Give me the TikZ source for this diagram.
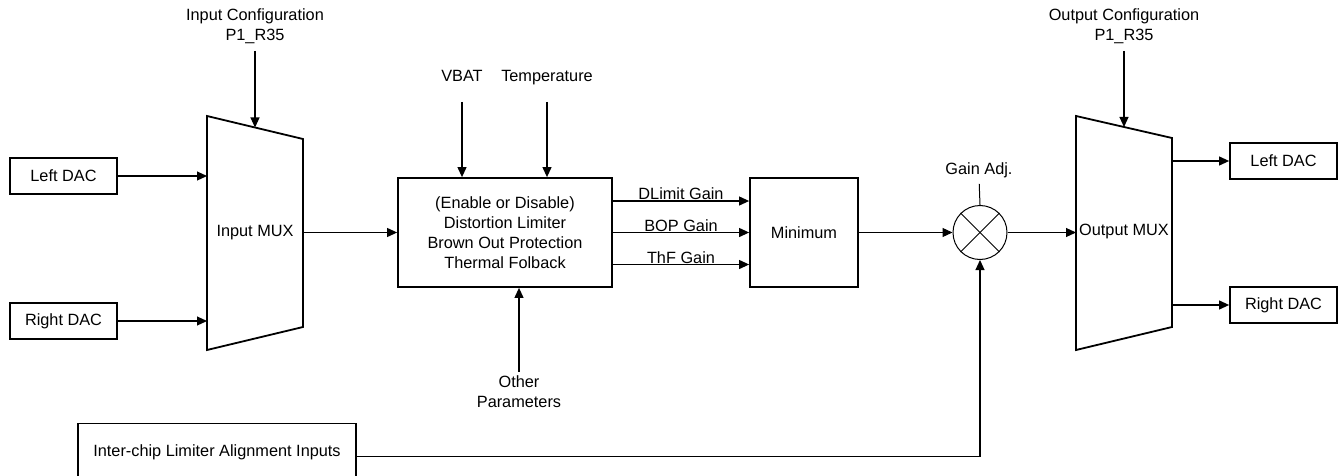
\documentclass[tikz,border=0pt]{standalone}
\usepackage{fontspec}
\setmainfont{Liberation Sans}
\usetikzlibrary{arrows.meta, positioning, calc}

\tikzset{
  blk/.style={draw, line width=1.8pt, minimum width=107pt, minimum height=36pt, inner sep=0pt},
  txt/.style={inner sep=0pt, align=center},
  sig/.style={-{Triangle[length=10pt,width=9pt]}, line width=1.1pt},
  wire/.style={line width=1pt},
  muxline/.style={line width=1.8pt, line join=miter},
  gainlbl/.style={txt, anchor=base, yshift=1.5pt},
}

\begin{document}
\begin{tikzpicture}[x=1pt, y=-1pt, font=\fontsize{16.3}{20}\selectfont]
    \useasboundingbox (0,0) rectangle (1338,476);

    % DAC inputs on the left
    \node[blk] (ldacin) at (63.5,176) {Left DAC};
    \node[blk] (rdacin) at (63.5,321) {Right DAC};

    % Input MUX (trapezoid)
    \draw[muxline] (207,116) coordinate (imtl) -- (303,139) coordinate (imtr)
        -- (303,327) -- (207,350) -- cycle;
    \node[txt] (inmux) at (255,233) {Input MUX};
    \coordinate (imtop) at ($(imtl)!0.5!(imtr)$);
    \node[txt, anchor=south] (incfg) at (255,44) {Input Configuration\\P1\_R35};
    \draw[sig, shorten <=7pt] (incfg.south) -- (imtop);
    \draw[sig] (ldacin.east) -- (ldacin.east -| imtl);
    \draw[sig] (rdacin.east) -- (rdacin.east -| imtl);

    % Limiter block
    \node[draw, line width=1.8pt, minimum width=214pt, minimum height=109pt, align=center]
        (lim) at (505,232.5) {(Enable or Disable)\\Distortion Limiter\\Brown Out Protection\\Thermal Folback};
    \draw[sig] (imtr |- lim.west) -- (lim.west);

    % VBAT, Temperature and other parameters
    \node[txt, anchor=base] (vbat) at (462,82) {VBAT};
    \node[txt, anchor=base] (temp) at (547,82) {Temperature};
    \draw[sig, shorten <=20pt] (vbat.base) -- (vbat.base |- lim.north);
    \draw[sig, shorten <=20pt] (temp.base) -- (temp.base |- lim.north);
    \node[txt] (other) at (519,392) {Other\\Parameters};
    \draw[sig, shorten <=4pt] (other.north) -- (other.north |- lim.south);

    % Minimum block and the three gains
    \node[draw, line width=1.8pt, minimum width=108pt, minimum height=109pt] (minb) at (804,232.5) {Minimum};
    \draw[sig] ([yshift=31.5pt]lim.east) -- node[gainlbl] {DLimit Gain} ([yshift=31.5pt]minb.west);
    \draw[sig] (lim.east) -- node[gainlbl] {BOP Gain} (minb.west);
    \draw[sig] ([yshift=-32pt]lim.east) -- node[gainlbl] {ThF Gain} ([yshift=-32pt]minb.west);

    % Gain multiplier
    \node[circle, draw, line width=1pt, minimum size=54pt, inner sep=0pt] (mult) at (980,232.5) {};
    \draw[wire] (mult.north west) -- (mult.south east);
    \draw[wire] (mult.north east) -- (mult.south west);
    \node[txt] (gadj) at (979,170) {Gain Adj.};
    \draw[wire, shorten <=6pt] (gadj.south) -- (mult.north);
    \draw[sig] (minb.east) -- (mult.west);

    % Inter-chip alignment
    \node[draw, line width=1.8pt, minimum width=278pt, minimum height=58pt] (ical) at (217,452.5)
        {Inter-chip Limiter Alignment Inputs};
    \draw[sig] (ical.base east) -| (mult.south);

    % Output MUX (trapezoid)
    \draw[muxline] (1076,116) coordinate (omtl) -- (1172,138) coordinate (omtr)
        -- (1172,327) -- (1076,350) -- cycle;
    \node[txt] (outmux) at (1124,231) {Output MUX};
    \coordinate (omtop) at ($(omtl)!0.5!(omtr)$);
    \node[txt, anchor=south] (outcfg) at (1124,44) {Output Configuration\\P1\_R35};
    \draw[sig, shorten <=7pt] (outcfg.south) -- (omtop);
    \draw[sig] (mult.east) -- (mult.east -| omtl);

    % DAC outputs on the right
    \node[blk] (ldacout) at (1283.5,161) {Left DAC};
    \node[blk] (rdacout) at (1283.5,305) {Right DAC};
    \draw[sig] (ldacout.west -| omtr) -- (ldacout.west);
    \draw[sig] (rdacout.west -| omtr) -- (rdacout.west);
\end{tikzpicture}
\end{document}
